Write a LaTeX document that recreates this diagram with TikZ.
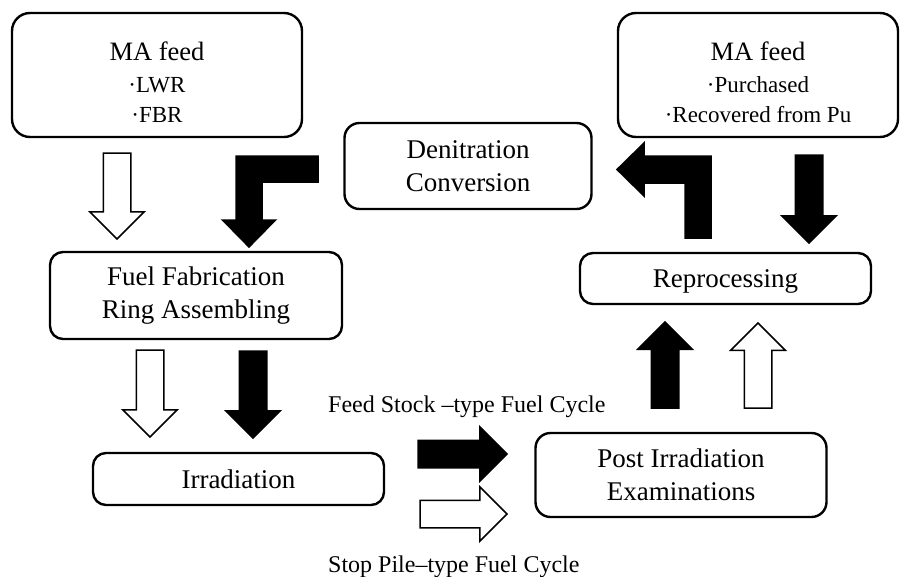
\documentclass[tikz,border=0pt]{standalone}
\usepackage{fontspec}
\setmainfont{Liberation Serif}
\usepackage{tikz}
\usetikzlibrary{shapes.arrows}

\begin{document}
\begin{tikzpicture}[
    x=1pt, y=-1pt,
    box/.style={rectangle, draw=black, line width=2.4pt, rounded corners=#1, align=center, inner sep=0pt, font=\fontsize{27}{33}\selectfont},
    box/.default={13pt},
    feedbox/.style={box=18pt, minimum height=124pt, font=\fontsize{23}{30}\selectfont},
    flow/.style={single arrow, draw=black, line width=1.5pt, fill=#1, inner xsep=0pt, inner ysep=13pt, outer sep=0pt, minimum height=87pt, single arrow head extend=13.5pt, single arrow tip angle=90, anchor=tip},
    flow/.default={black},
    lflow/.style={draw=black, line width=1.5pt, fill=black, line join=miter},
    cyclelabel/.style={anchor=base west, inner sep=0pt, font=\fontsize{24}{29}\selectfont}
]
\useasboundingbox (0,0) rectangle (900,576);

% === NODOS ===
\node[feedbox, minimum width=290pt] (feedlwr) at (157, 75) {{\fontsize{26.5}{30}\selectfont\rule{0pt}{34pt}MA feed}\\[2pt]·LWR\\·FBR};
\node[feedbox, minimum width=280pt] (feedpu) at (758, 75) {{\fontsize{26.5}{30}\selectfont\rule{0pt}{34pt}MA feed}\\[2pt]·Purchased\\·Recovered from Pu};
\node[box=15pt, minimum width=247pt, minimum height=86pt] (denit) at (468, 166) {Denitration\\Conversion};
\node[box, minimum width=292pt, minimum height=87pt] (fabric) at (196, 295.5) {Fuel Fabrication\\Ring Assembling};
\node[box, minimum width=291pt, minimum height=52pt] (irrad) at (238.5, 479) {Irradiation};
\node[box, minimum width=291pt, minimum height=51pt] (reproc) at (725.5, 278.5) {\rule{0pt}{24pt}Reprocessing};
\node[box=15pt, minimum width=291pt, minimum height=84pt] (pie) at (681, 475) {Post Irradiation\\Examinations};

% === FLECHAS ===
\node[flow=white, rotate=-90, minimum height=86pt] (lwrtofab) at (117, 239) {};
\node[flow, rotate=-90, minimum height=88pt] (putorep) at (809, 243) {};
\node[flow=white, rotate=-90] (fabtoirrw) at (150, 437) {};
\node[flow, rotate=-90] (fabtoirrb) at (253, 438) {};
\node[flow, rotate=90, minimum height=86pt] (pietorepb) at (665, 322) {};
\node[flow=white, rotate=90, minimum height=85pt] (pietorepw) at (758, 323) {};
\node[flow, minimum height=89pt] (feedstock) at (507, 454) {};
\node[flow=white, minimum height=87pt] (stoppile) at (507, 514) {};

% L-shaped flows
\path[lflow] (318,156) -- (236,156) -- (236,220) -- (222.5,220) -- (249,247) -- (275.5,220) -- (262,220) -- (262,182) -- (318,182) -- cycle;
\path[lflow] (685,238) -- (685,183) -- (644,183) -- (644,196) -- (617,169.5) -- (644,143) -- (644,156) -- (711,156) -- (711,238) -- cycle;

% === ETIQUETAS ===
\node[cyclelabel] (fslabel) at (328, 412) {Feed Stock –type Fuel Cycle};
\node[cyclelabel] (splabel) at (328, 572) {Stop Pile–type Fuel Cycle};

\end{tikzpicture}
\end{document}
